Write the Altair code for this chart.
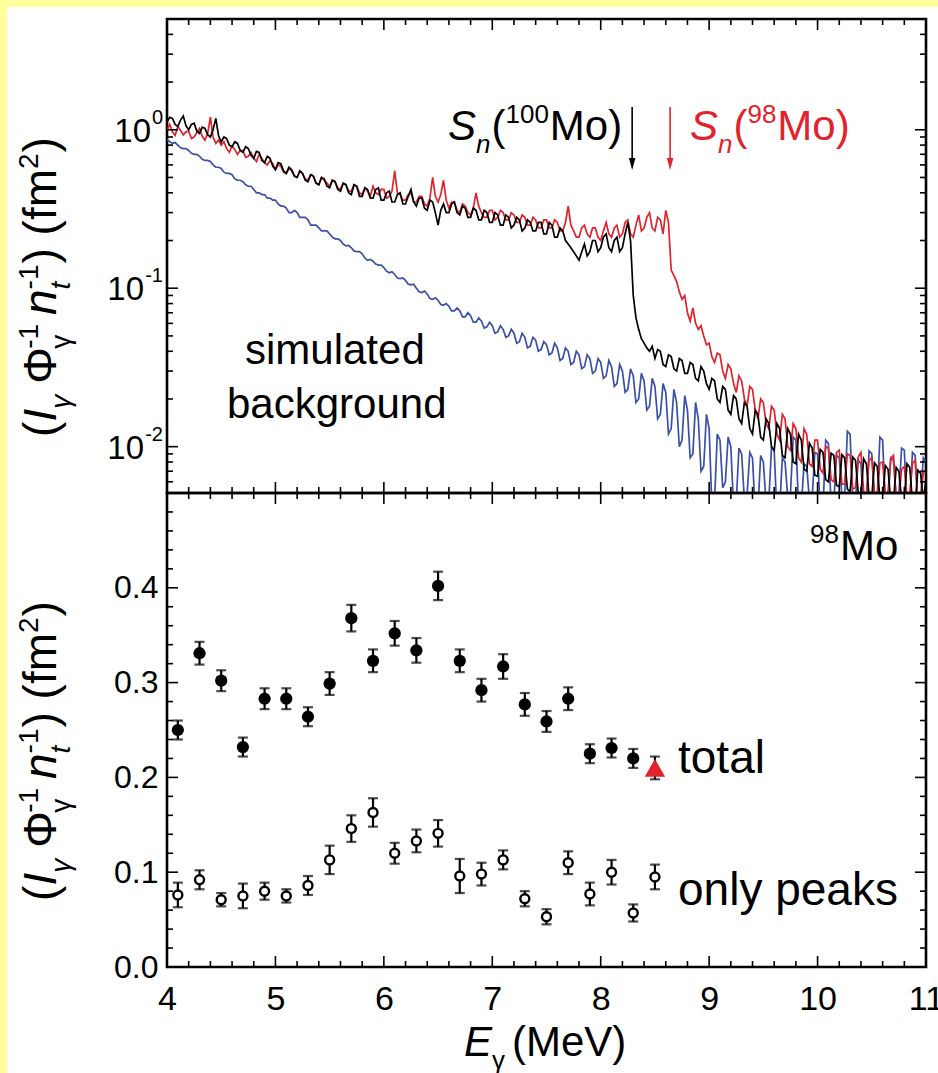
import altair as alt
import pandas as pd

# ---------------------------------------------------------------------------
# Photon-scattering spectra, 25 keV bins starting at 4.000 MeV (20 bins per row)
# ---------------------------------------------------------------------------
SPEC_E0 = 4.0
SPEC_DE = 0.025

MO98_SPEC = [
    1.00, 1.08, 0.97, 0.92, 1.05, 0.99, 0.93, 0.97, 0.98, 0.88, 0.90, 0.96, 1.02, 0.91, 0.86, 0.95, 1.20, 0.90, 0.82, 0.86,
    0.80, 0.84, 0.76, 0.72, 0.79, 0.75, 0.70, 0.74, 0.74, 0.67, 0.68, 0.72, 0.66, 0.63, 0.70, 0.66, 0.62, 0.60, 0.64, 0.61,
    0.56, 0.60, 0.59, 0.54, 0.53, 0.57, 0.55, 0.51, 0.50, 0.55, 0.53, 0.49, 0.48, 0.52, 0.51, 0.46, 0.45, 0.50, 0.48, 0.46,
    0.44, 0.48, 0.47, 0.43, 0.42, 0.46, 0.45, 0.41, 0.41, 0.45, 0.44, 0.40, 0.39, 0.43, 0.41, 0.38, 0.44, 0.40, 0.39, 0.42,
    0.42, 0.37, 0.38, 0.41, 0.55, 0.40, 0.39, 0.36, 0.36, 0.39, 0.40, 0.35, 0.35, 0.38, 0.38, 0.34, 0.33, 0.37, 0.50, 0.38,
    0.35, 0.39, 0.48, 0.36, 0.32, 0.35, 0.35, 0.31, 0.30, 0.34, 0.33, 0.30, 0.29, 0.32, 0.40, 0.33, 0.30, 0.28, 0.28, 0.31,
    0.31, 0.27, 0.28, 0.31, 0.30, 0.27, 0.27, 0.30, 0.29, 0.26, 0.26, 0.29, 0.28, 0.25, 0.25, 0.28, 0.27, 0.24, 0.24, 0.27,
    0.27, 0.24, 0.24, 0.27, 0.26, 0.23, 0.23, 0.26, 0.33, 0.25, 0.23, 0.21, 0.21, 0.24, 0.25, 0.22, 0.21, 0.24, 0.24, 0.21,
    0.20, 0.23, 0.26, 0.22, 0.21, 0.24, 0.25, 0.21, 0.22, 0.26, 0.27, 0.22, 0.21, 0.25, 0.29, 0.23, 0.24, 0.28, 0.30, 0.24,
    0.23, 0.28, 0.27, 0.22, 0.31, 0.26, 0.13, 0.12, 0.11, 0.095, 0.085, 0.09, 0.07, 0.062, 0.075, 0.06, 0.055, 0.058, 0.05, 0.044,
    0.045, 0.037, 0.034, 0.039, 0.038, 0.030, 0.027, 0.033, 0.031, 0.025, 0.022, 0.028, 0.026, 0.020, 0.018, 0.024, 0.023, 0.017, 0.015, 0.020,
    0.019, 0.014, 0.013, 0.018, 0.017, 0.012, 0.011, 0.016, 0.015, 0.010, 0.0095, 0.014, 0.013, 0.0085, 0.008, 0.013, 0.012, 0.0078, 0.0075, 0.011,
    0.011, 0.0072, 0.0068, 0.010, 0.0098, 0.0062, 0.006, 0.0092, 0.0095, 0.0058, 0.0058, 0.009, 0.0088, 0.0054, 0.0055, 0.0086, 0.0092, 0.0052, 0.005, 0.0082,
    0.0085, 0.005, 0.0048, 0.0079, 0.008, 0.0049, 0.0052, 0.0084, 0.0088, 0.0047, 0.0046, 0.0072, 0.0075, 0.0048, 0.005, 0.0078, 0.0082, 0.0046, 0.0045, 0.0068,
    0.007,
]

MO100_SPEC = [
    1.12, 1.20, 1.18, 1.08, 1.05, 1.15, 1.22, 1.06, 1.00, 1.08, 1.10, 0.98, 0.95, 1.04, 1.02, 0.93, 0.90, 1.00, 1.18, 0.92,
    0.84, 0.90, 0.88, 0.80, 0.78, 0.84, 0.82, 0.74, 0.72, 0.78, 0.76, 0.69, 0.66, 0.73, 0.72, 0.64, 0.62, 0.68, 0.66, 0.59,
    0.56, 0.62, 0.61, 0.55, 0.53, 0.58, 0.56, 0.51, 0.50, 0.55, 0.53, 0.48, 0.47, 0.52, 0.51, 0.46, 0.45, 0.50, 0.49, 0.44,
    0.43, 0.48, 0.47, 0.42, 0.41, 0.46, 0.45, 0.40, 0.39, 0.45, 0.44, 0.38, 0.38, 0.43, 0.42, 0.37, 0.37, 0.42, 0.43, 0.36,
    0.36, 0.40, 0.41, 0.35, 0.35, 0.39, 0.40, 0.34, 0.34, 0.38, 0.42, 0.35, 0.33, 0.37, 0.37, 0.32, 0.31, 0.36, 0.35, 0.30,
    0.25, 0.31, 0.34, 0.30, 0.30, 0.34, 0.35, 0.30, 0.29, 0.33, 0.32, 0.28, 0.28, 0.32, 0.31, 0.27, 0.27, 0.31, 0.30, 0.26,
    0.26, 0.30, 0.29, 0.25, 0.25, 0.29, 0.28, 0.24, 0.25, 0.28, 0.27, 0.23, 0.24, 0.27, 0.26, 0.23, 0.23, 0.26, 0.26, 0.22,
    0.22, 0.26, 0.25, 0.21, 0.21, 0.24, 0.23, 0.20, 0.19, 0.18, 0.17, 0.16, 0.15, 0.17, 0.19, 0.16, 0.17, 0.20, 0.20, 0.17,
    0.18, 0.21, 0.22, 0.18, 0.17, 0.20, 0.21, 0.17, 0.18, 0.22, 0.26, 0.20, 0.09, 0.065, 0.055, 0.048, 0.045, 0.042, 0.040, 0.043,
    0.036, 0.041, 0.040, 0.033, 0.032, 0.038, 0.037, 0.031, 0.030, 0.036, 0.035, 0.029, 0.029, 0.034, 0.033, 0.027, 0.026, 0.032, 0.030, 0.025,
    0.023, 0.027, 0.026, 0.020, 0.019, 0.024, 0.023, 0.017, 0.016, 0.021, 0.020, 0.015, 0.014, 0.019, 0.018, 0.013, 0.012, 0.017, 0.016, 0.0115,
    0.011, 0.015, 0.014, 0.010, 0.0095, 0.014, 0.013, 0.0088, 0.0085, 0.013, 0.012, 0.008, 0.0078, 0.012, 0.011, 0.0072, 0.007, 0.0105, 0.0098, 0.0066,
    0.0065, 0.0096, 0.0092, 0.0062, 0.006, 0.0091, 0.0088, 0.0057, 0.0056, 0.0089, 0.0085, 0.0054, 0.0052, 0.0086, 0.0082, 0.0051, 0.005, 0.0084, 0.0078, 0.0049,
    0.0048, 0.0079, 0.0075, 0.0047, 0.0046, 0.0076, 0.0072, 0.0045, 0.0045, 0.0074, 0.007, 0.0046, 0.0047, 0.0078, 0.0074, 0.0045, 0.0044, 0.0071, 0.0068, 0.0046,
    0.0062,
]

BKG_SPEC = [
    0.87, 0.84, 0.82, 0.83, 0.80, 0.77, 0.76, 0.76, 0.74, 0.71, 0.70, 0.70, 0.68, 0.65, 0.64, 0.64, 0.63, 0.60, 0.58, 0.58,
    0.57, 0.54, 0.53, 0.53, 0.52, 0.49, 0.48, 0.48, 0.47, 0.45, 0.44, 0.44, 0.42, 0.40, 0.40, 0.39, 0.39, 0.37, 0.37, 0.36,
    0.36, 0.34, 0.33, 0.33, 0.32, 0.30, 0.30, 0.31, 0.30, 0.28, 0.28, 0.28, 0.27, 0.25, 0.25, 0.25, 0.24, 0.23, 0.23, 0.23,
    0.22, 0.21, 0.205, 0.205, 0.20, 0.19, 0.185, 0.186, 0.18, 0.172, 0.17, 0.17, 0.165, 0.155, 0.15, 0.152, 0.148, 0.142, 0.14, 0.14,
    0.135, 0.128, 0.125, 0.127, 0.122, 0.116, 0.115, 0.116, 0.112, 0.106, 0.105, 0.106, 0.10, 0.095, 0.094, 0.096, 0.092, 0.086, 0.085, 0.087,
    0.084, 0.079, 0.078, 0.080, 0.077, 0.072, 0.072, 0.075, 0.072, 0.066, 0.066, 0.070, 0.067, 0.061, 0.061, 0.065, 0.062, 0.056, 0.057, 0.061,
    0.058, 0.052, 0.053, 0.058, 0.055, 0.049, 0.050, 0.055, 0.052, 0.045, 0.046, 0.052, 0.049, 0.042, 0.043, 0.049, 0.047, 0.040, 0.041, 0.046,
    0.044, 0.038, 0.039, 0.045, 0.042, 0.035, 0.036, 0.042, 0.040, 0.033, 0.034, 0.040, 0.038, 0.031, 0.032, 0.038, 0.036, 0.029, 0.030, 0.036,
    0.034, 0.027, 0.028, 0.035, 0.032, 0.024, 0.025, 0.033, 0.030, 0.022, 0.023, 0.031, 0.028, 0.019, 0.020, 0.029, 0.026, 0.017, 0.018, 0.027,
    0.024, 0.015, 0.016, 0.025, 0.022, 0.012, 0.013, 0.023, 0.019, 0.010, 0.011, 0.021, 0.017, 0.0085, 0.009, 0.019, 0.015, 0.007, 0.0075, 0.016,
    0.013, 0.0042, 0.0045, 0.012, 0.011, 0.0055, 0.006, 0.0115, 0.010, 0.0042, 0.0045, 0.0098, 0.009, 0.0046, 0.005, 0.0092, 0.0085, 0.0038, 0.004, 0.0088,
    0.008, 0.0044, 0.0045, 0.0098, 0.0095, 0.0038, 0.004, 0.0085, 0.008, 0.0048, 0.005, 0.0115, 0.011, 0.0041, 0.0042, 0.0078, 0.0075, 0.0046, 0.0048, 0.0092,
    0.009, 0.0039, 0.004, 0.011, 0.0105, 0.0043, 0.0045, 0.0088, 0.0085, 0.0048, 0.005, 0.0125, 0.012, 0.0044, 0.0045, 0.0082, 0.0078, 0.0041, 0.0042, 0.0094,
    0.009, 0.0046, 0.0048, 0.0115, 0.011, 0.0043, 0.0045, 0.0085, 0.0082, 0.0048, 0.005, 0.0098, 0.0095, 0.0041, 0.0042, 0.0092, 0.0088, 0.0044, 0.0046, 0.0085,
    0.008,
]

# neutron separation energies (MeV)
SN_E = [8.29, 8.64]
SN_NUCLEUS = ["100Mo", "98Mo"]

# ---------------------------------------------------------------------------
# 98Mo intensities in 200 keV bins
# ---------------------------------------------------------------------------
BIN_E = [4.1, 4.3, 4.5, 4.7, 4.9, 5.1, 5.3, 5.5, 5.7, 5.9, 6.1,
         6.3, 6.5, 6.7, 6.9, 7.1, 7.3, 7.5, 7.7, 7.9, 8.1, 8.3]
TOTAL = [0.250, 0.331, 0.302, 0.232, 0.283, 0.283, 0.264, 0.299, 0.368, 0.323, 0.352,
         0.334, 0.402, 0.323, 0.292, 0.317, 0.277, 0.259, 0.283, 0.225, 0.231, 0.220]
TOTAL_ERR = [0.010, 0.012, 0.011, 0.010, 0.011, 0.011, 0.010, 0.012, 0.014, 0.012, 0.013,
             0.013, 0.015, 0.012, 0.012, 0.013, 0.012, 0.011, 0.012, 0.010, 0.010, 0.010]

PEAK_E = BIN_E + [8.5]
PEAKS = [0.076, 0.092, 0.071, 0.075, 0.080, 0.075, 0.086, 0.113, 0.146, 0.163, 0.120, 0.133,
         0.141, 0.096, 0.098, 0.113, 0.072, 0.053, 0.110, 0.077, 0.100, 0.057, 0.095]
PEAKS_ERR = [0.013, 0.010, 0.007, 0.013, 0.009, 0.007, 0.010, 0.015, 0.014, 0.015, 0.011, 0.012,
             0.014, 0.018, 0.012, 0.010, 0.008, 0.008, 0.012, 0.012, 0.013, 0.009, 0.013]

LAST_E = [8.5]
LAST_TOTAL = [0.210]
LAST_ERR = [0.012]

# axis tick values
X_MAJOR = [4, 5, 6, 7, 8, 9, 10, 11]
X_MINOR = [4.2, 4.4, 4.6, 4.8, 5.2, 5.4, 5.6, 5.8, 6.2, 6.4, 6.6, 6.8, 7.2, 7.4, 7.6, 7.8,
           8.2, 8.4, 8.6, 8.8, 9.2, 9.4, 9.6, 9.8, 10.2, 10.4, 10.6, 10.8]
LOG_MAJOR = [0.01, 0.1, 1.0]
LOG_EXP = ["-2", "-1", "0"]
LOG_MINOR = [0.006, 0.007, 0.008, 0.009,
             0.02, 0.03, 0.04, 0.05, 0.06, 0.07, 0.08, 0.09,
             0.2, 0.3, 0.4, 0.5, 0.6, 0.7, 0.8, 0.9,
             2.0, 3.0, 4.0]
LIN_MAJOR = [0.0, 0.1, 0.2, 0.3, 0.4, 0.5]
LIN_LABELS = [0.0, 0.1, 0.2, 0.3, 0.4]
LIN_MINOR = [0.02, 0.04, 0.06, 0.08, 0.12, 0.14, 0.16, 0.18, 0.22, 0.24, 0.26, 0.28,
             0.32, 0.34, 0.36, 0.38, 0.42, 0.44, 0.46, 0.48]

# ---------------------------------------------------------------------------
# layout / style
# ---------------------------------------------------------------------------
W = 759
H_TOP = 474
H_BOT = 474
LEFT = 167
TOP = 19
FONT = "Liberation Sans"
RED = "#E1232D"
BLUE = "#3B50A8"
YELLOW = "#FFFF9C"
MAJ = 11
MIN = 6

x_scale = alt.Scale(domain=[4, 11], nice=False, zero=False)
y_log = alt.Scale(type="log", domain=[0.0051, 5.0], nice=False)
y_lin = alt.Scale(domain=[0, 0.5], nice=False, zero=False)

# approximate advance widths (em) of Liberation Sans glyphs
EM = {"(": .333, ")": .333, "I": .278, "γ": .5, "Φ": .76, "-": .333, "1": .556, "2": .556,
      "n": .556, "t": .278, "f": .278, "m": .833, " ": .278, "E": .667, "M": .833, "e": .556,
      "V": .667, "S": .667, "o": .556, "0": .556, "9": .556, "8": .556}


def width(s, size):
    return sum(EM.get(c, .556) for c in s) * size


def compose(tokens, size, small):
    """Lay out a run of normal / italic / sub / sup pieces along one line."""
    out, pos = [], 0.0
    for tok in tokens:
        kind = tok[0]
        if kind in ("n", "i"):
            out.append((tok[1], pos, 0.0, size, kind))
            pos += width(tok[1], size)
        elif kind == "gap":
            pos += tok[1]
        else:
            adv = 0.0
            for part, text in zip(("sub", "sup"), tok[1:]):
                if not text:
                    continue
                style = "i" if kind.startswith("i") and part == "sub" else "n"
                shift = 0.30 * size if part == "sub" else -0.40 * size
                out.append((text, pos, shift, small, style))
                adv = max(adv, width(text, small))
            pos += adv + 1
    return out, pos


def text_layers(rows, color="black", angle=0):
    df = pd.DataFrame(rows, columns=["t", "px", "py", "fs", "style"])
    layers = []
    for style, fstyle in (("n", "normal"), ("i", "italic")):
        sub = df[df["style"] == style]
        if sub.empty:
            continue
        layers.append(
            alt.Chart(sub).mark_text(align="left", baseline="alphabetic", font=FONT,
                                     fontStyle=fstyle, color=color, angle=angle)
            .encode(x=alt.X("px:Q", scale=None), y=alt.Y("py:Q", scale=None),
                    text="t:N", size=alt.Size("fs:Q", scale=None, legend=None))
        )
    return layers


def horizontal(tokens, x0, y0, size, small, color="black"):
    pieces, _ = compose(tokens, size, small)
    rows = [(t, x0 + a, y0 + s, fs, st) for t, a, s, fs, st in pieces]
    return text_layers(rows, color)


def vertical(tokens, x0, y_mid, size, small):
    # text reads bottom-to-top: glyph tops point left, subscripts sit to the right
    pieces, total = compose(tokens, size, small)
    y0 = y_mid + total / 2
    rows = [(t, x0 + s, y0 - a, fs, st) for t, a, s, fs, st in pieces]
    return text_layers(rows, angle=270)


Y_TITLE = [("n", "("), ("i", "I"), ("isub", "γ", ""), ("gap", 10), ("n", "Φ"), ("sub", "γ", "-1"),
           ("gap", 8), ("i", "n"), ("isub", "t", "-1"), ("n", ") (fm"), ("sup", "", "2"), ("n", ")")]
TITLE_SIZE = 46
TITLE_SMALL = 28

# ---------------------------------------------------------------------------
# data frames
# ---------------------------------------------------------------------------
energies = [round(SPEC_E0 + SPEC_DE * i, 3) for i in range(len(MO98_SPEC))]
spec = pd.concat([
    pd.DataFrame({"E": energies, "v": BKG_SPEC, "s": "bkg"}),
    pd.DataFrame({"E": energies, "v": MO98_SPEC, "s": "98"}),
    pd.DataFrame({"E": energies, "v": MO100_SPEC, "s": "100"}),
])
one = pd.DataFrame({"k": [0]})
sn = pd.DataFrame({"E": SN_E, "nuc": SN_NUCLEUS, "c": ["black", RED]})
total_df = pd.DataFrame({"E": BIN_E, "v": TOTAL, "err": TOTAL_ERR})
peaks_df = pd.DataFrame({"E": PEAK_E, "v": PEAKS, "err": PEAKS_ERR})
last_df = pd.DataFrame({"E": LAST_E, "v": LAST_TOTAL, "err": LAST_ERR})
xmaj = pd.DataFrame({"E": X_MAJOR})
xmin = pd.DataFrame({"E": X_MINOR})
lmaj = pd.DataFrame({"v": LOG_MAJOR, "exp": LOG_EXP})
lmin = pd.DataFrame({"v": LOG_MINOR})
nmaj = pd.DataFrame({"v": LIN_MAJOR})
nmin = pd.DataFrame({"v": LIN_MINOR})

# axes: the upper panel draws its own labels, the lower one uses Vega axes
AX_X = alt.Axis(values=X_MAJOR, format="d", labelFontSize=34, labelFont=FONT, labelColor="black",
                labelPadding=15, ticks=False, domain=False, grid=False, title=None, labelFlush=False)
AX_Y = alt.Axis(values=LIN_LABELS, format=".1f", labelFontSize=32, labelFont=FONT,
                labelColor="black", labelPadding=9, ticks=False, domain=False, grid=False, title=None)


def xs(axis):
    return alt.X("E:Q", scale=x_scale, axis=axis)


def x_ticks(df, length, height, axis):
    rule = alt.Chart(df).mark_rule(color="black", strokeWidth=1.6)
    return [rule.encode(x=xs(axis), y=alt.value(0), y2=alt.value(length)),
            rule.encode(x=xs(axis), y=alt.value(height - length), y2=alt.value(height))]


def y_ticks(df, scale, length, axis):
    rule = alt.Chart(df).mark_rule(color="black", strokeWidth=1.6)
    Y = alt.Y("v:Q", scale=scale, axis=axis)
    return [rule.encode(y=Y, x=alt.value(0), x2=alt.value(length)),
            rule.encode(y=Y, x=alt.value(W - length), x2=alt.value(W))]


# ---------------------------------------------------------------------------
# upper panel: spectra
# ---------------------------------------------------------------------------
X = xs(None)
Ylog = alt.Y("v:Q", scale=y_log, axis=None)

strips = [
    alt.Chart(one).mark_rect(color=YELLOW).encode(
        x=alt.value(-LEFT), x2=alt.value(938 - LEFT), y=alt.value(-TOP), y2=alt.value(-TOP + 7)),
    alt.Chart(one).mark_rect(color=YELLOW).encode(
        x=alt.value(-LEFT), x2=alt.value(-LEFT + 7), y=alt.value(-TOP), y2=alt.value(1073 - TOP)),
]

spectra = [
    alt.Chart(spec).transform_filter(alt.datum.s == key)
    .mark_line(interpolate="linear", strokeWidth=1.7, clip=True, color=col)
    .encode(x=X, y=Ylog)
    for key, col in (("bkg", BLUE), ("98", RED), ("100", "black"))
]

arrows = [
    alt.Chart(sn).mark_rule(strokeWidth=1.6).encode(
        x=X, y=alt.value(88), y2=alt.value(146), color=alt.Color("c:N", scale=None)),
    alt.Chart(sn).mark_point(shape="M-0.55,-1L0.55,-1L0,1Z", filled=True, size=140, opacity=1)
    .encode(x=X, y=alt.value(145), color=alt.Color("c:N", scale=None)),
]

log_labels = [
    alt.Chart(lmaj).mark_text(align="right", baseline="alphabetic", font=FONT, fontSize=20,
                              dx=-4, dy=-6, color="black").encode(y=Ylog, x=alt.value(0), text="exp:N"),
    alt.Chart(lmaj).transform_filter(alt.datum.exp == "0")
    .mark_text(align="right", baseline="alphabetic", font=FONT, fontSize=33, dy=12, color="black")
    .encode(y=Ylog, x=alt.value(-16), text=alt.value("10")),
    alt.Chart(lmaj).transform_filter(alt.datum.exp != "0")
    .mark_text(align="right", baseline="alphabetic", font=FONT, fontSize=33, dy=12, color="black")
    .encode(y=Ylog, x=alt.value(-23), text=alt.value("10")),
]

top_layers = (strips + spectra
              + x_ticks(xmaj, MAJ, H_TOP, None) + x_ticks(xmin, MIN, H_TOP, None)
              + y_ticks(lmaj, y_log, MAJ, None) + y_ticks(lmin, y_log, MIN, None)
              + arrows + log_labels
              + horizontal([("i", "S"), ("isub", "n", ""), ("n", "("), ("sup", "", "100"), ("n", "Mo)")],
                           448 - LEFT, 140 - TOP, 42, 26)
              + horizontal([("i", "S"), ("isub", "n", ""), ("n", "("), ("sup", "", "98"), ("n", "Mo)")],
                           690 - LEFT, 140 - TOP, 42, 26, color=RED)
              + text_layers([("simulated", 245 - LEFT, 364 - TOP, 42, "n"),
                             ("background", 227 - LEFT, 418 - TOP, 42, "n")])
              + vertical(Y_TITLE, 56 - LEFT, 268, TITLE_SIZE, TITLE_SMALL))

top = alt.layer(*top_layers).properties(width=W, height=H_TOP)

# ---------------------------------------------------------------------------
# lower panel: 98Mo intensities
# ---------------------------------------------------------------------------
Xb = xs(AX_X)


def ylin(field):
    return alt.Y(field, scale=y_lin, axis=AX_Y)


def errorbars(df, color="black"):
    base = alt.Chart(df).transform_calculate(lo="datum.v - datum.err", hi="datum.v + datum.err")
    tick = dict(color=color, thickness=2.2, size=10, orient="horizontal")
    return [
        base.mark_rule(color=color, strokeWidth=2.2).encode(x=Xb, y=ylin("lo:Q"), y2="hi:Q"),
        base.mark_tick(**tick).encode(x=Xb, y=ylin("lo:Q")),
        base.mark_tick(**tick).encode(x=Xb, y=ylin("hi:Q")),
    ]


points = [
    alt.Chart(total_df).mark_point(shape="circle", filled=True, color="black", size=150, opacity=1)
    .encode(x=Xb, y=ylin("v:Q")),
    alt.Chart(peaks_df).mark_point(shape="circle", filled=True, fill="white", stroke="black",
                                   strokeWidth=2.4, size=80, opacity=1)
    .encode(x=Xb, y=ylin("v:Q")),
    alt.Chart(last_df).mark_point(shape="triangle-up", filled=True, color=RED, size=420, opacity=1)
    .encode(x=Xb, y=ylin("v:Q")),
]

bottom_layers = (errorbars(total_df) + errorbars(peaks_df) + errorbars(last_df) + points
                 + x_ticks(xmaj, MAJ, H_BOT, AX_X) + x_ticks(xmin, MIN, H_BOT, AX_X)
                 + y_ticks(nmaj, y_lin, MAJ, AX_Y) + y_ticks(nmin, y_lin, MIN, AX_Y)
                 + horizontal([("sup", "", "98"), ("n", "Mo")], 810 - LEFT, 560 - 493, 42, 26)
                 + text_layers([("total", 678 - LEFT, 773 - 493, 46, "n"),
                                ("only peaks", 678 - LEFT, 905 - 493, 46, "n")])
                 + horizontal([("i", "E"), ("sub", "γ", ""), ("gap", 6), ("n", "(MeV)")],
                              464 - LEFT, 1056 - 493, 42, 26)
                 + vertical(Y_TITLE, 56 - LEFT, 258, TITLE_SIZE, TITLE_SMALL))

bottom = alt.layer(*bottom_layers).properties(width=W, height=H_BOT)

chart = (
    alt.vconcat(top, bottom, spacing=0, bounds="flush")
    .properties(autosize=alt.AutoSizeParams(type="none"),
                padding={"left": LEFT, "top": TOP, "right": 938 - LEFT - W, "bottom": 1073 - TOP},
                background="white")
    .configure_view(stroke="black", strokeWidth=2.6)
)

chart.save("out.html", embed_options={"renderer": "svg", "actions": False})
